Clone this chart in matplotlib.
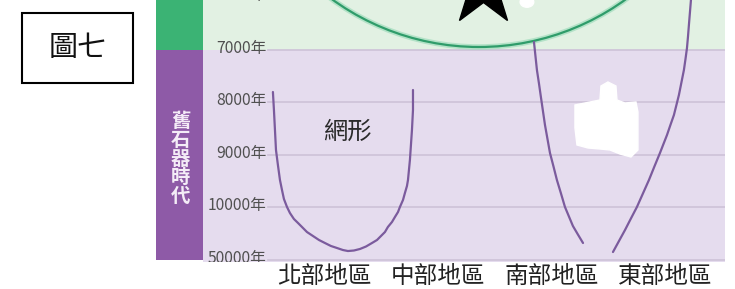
import matplotlib
matplotlib.use("Agg")
import matplotlib.pyplot as plt
from matplotlib.patches import Ellipse, Rectangle, Polygon
from matplotlib.transforms import blended_transform_factory

plt.rcParams['font.family'] = ['Noto Sans CJK TC', 'DejaVu Sans']

# ---------------- data ----------------
regions = ['北部地區', '中部地區', '南部地區', '東部地區']
year_labels = ['6000年', '7000年', '8000年', '9000年', '10000年', '50000年']
era_label = '舊石器時代'
figure_title = '圖七'
shape_label = '網形'

# curves: x = region position (0..3), y = year index (0 = 6000年 ... 5 = 50000年)
net_x = [-0.454, -0.445, -0.436, -0.427, -0.410, -0.392, -0.374, -0.357, -0.330,
         -0.304, -0.269, -0.233, -0.198, -0.154, -0.101, -0.048, 0.004, 0.057,
         0.110, 0.163, 0.207, 0.260, 0.313, 0.366, 0.419, 0.463, 0.498, 0.533,
         0.559, 0.595, 0.621, 0.648, 0.665, 0.692, 0.709, 0.727, 0.736, 0.753,
         0.762, 0.771, 0.780, 0.780]
net_y = [1.800, 2.143, 2.524, 2.905, 3.190, 3.476, 3.667, 3.838, 3.990,
         4.105, 4.219, 4.295, 4.371, 4.467, 4.543, 4.619, 4.676, 4.733,
         4.771, 4.810, 4.829, 4.819, 4.790, 4.743, 4.676, 4.619, 4.543, 4.467,
         4.371, 4.276, 4.181, 4.086, 3.990, 3.857, 3.724, 3.590, 3.476, 3.095,
         2.810, 2.524, 2.143, 1.762]
south_x = [1.846, 1.859, 1.872, 1.890, 1.907, 1.925, 1.943, 1.965, 1.987, 2.018,
           2.048, 2.084, 2.119, 2.154, 2.189, 2.233, 2.278]
south_y = [0.848, 1.114, 1.381, 1.638, 1.895, 2.162, 2.429, 2.695, 2.962, 3.219,
           3.476, 3.733, 3.990, 4.171, 4.352, 4.514, 4.676]
east_x = [3.229, 3.220, 3.211, 3.203, 3.194, 3.181, 3.167, 3.145, 3.123, 3.101,
          3.079, 3.048, 3.018, 2.987, 2.956, 2.907, 2.859, 2.806, 2.753, 2.700,
          2.648, 2.595, 2.542]
east_y = [0.048, 0.286, 0.524, 0.743, 0.962, 1.171, 1.381, 1.619, 1.857, 2.048,
          2.238, 2.429, 2.619, 2.790, 2.962, 3.219, 3.476, 3.733, 3.990, 4.210,
          4.429, 4.638, 4.848]

# ---------------- style ----------------
W, H, DPI = 735, 289, 100
fig = plt.figure(figsize=(W / DPI, H / DPI), dpi=DPI)
fig.patch.set_facecolor('white')

def fbox(x0, y0, x1, y1):
    return [x0 / W, 1 - y1 / H, (x1 - x0) / W, (y1 - y0) / H]

C_GREEN = '#3bb374'
C_PURPLE = '#8e5aa7'
C_LGREEN = '#e2f1e3'
C_LPURPLE = '#e5dcee'
C_GRID = '#cdc2d8'
C_CURVE = '#7b5b9d'
C_ARC = '#2f9c6a'

# y mapping: year index i sits at pixel -2.5 + 52.5*i
ax = fig.add_axes(fbox(203, 0, 725, 262))
ax.set_xlim(-1.070, 3.529)
ax.set_ylim(5.038, 0.048)
ax.set_facecolor(C_LPURPLE)
ax.axhspan(-1, 1, color=C_LGREEN, lw=0, zorder=0)
for s in ax.spines.values():
    s.set_visible(False)

for i in range(1, len(year_labels)):
    ax.axhline(i, xmin=0.125, xmax=1, color=C_GRID, lw=1.2, zorder=1)

tr = blended_transform_factory(ax.transAxes, ax.transData)
for i, lab in enumerate(year_labels):
    ax.text(0.121, i - 0.03, lab, transform=tr, ha='right', va='center', fontsize=11.3,
            color='#505050', clip_on=True, zorder=2)

ax.set_xticks(range(len(regions)))
ax.set_xticklabels(regions, fontsize=17, color='#222222')
ax.tick_params(axis='x', length=0, pad=2)
ax.set_yticks([])

# green arc (circle in pixel space)
arc_kw = dict(xy=(1.361, -3.819), width=4.405, height=9.524, fill=False)
ax.add_patch(Ellipse(edgecolor='#9fdcbc', lw=4, alpha=0.7, zorder=3, **arc_kw))
ax.add_patch(Ellipse(edgecolor=C_ARC, lw=1.6, zorder=3, **arc_kw))

# curves
for xs, ys in [(net_x, net_y), (south_x, south_y), (east_x, east_y)]:
    ax.plot(xs, ys, color=C_CURVE, lw=1.6, solid_capstyle='round',
            solid_joinstyle='round', zorder=4)

ax.text(0.198, 2.562, shape_label, fontsize=17.5, color='#2a2a2a', ha='center',
        va='center', fontweight='medium', zorder=5)

# star
ax.plot([1.396], [-0.219], marker='*', markersize=60, color='black', mec='black',
        clip_on=True, zorder=6)

# white smudges
ax.add_patch(Ellipse((1.784, 0.086), 0.12, 0.2, color='white', zorder=5))
blob = [(575, 105), (590, 102), (600, 100), (601, 86), (608, 82), (616, 86),
        (617, 100), (625, 103), (636, 102), (638, 112), (638, 150), (631, 157),
        (620, 154), (610, 150), (600, 149), (588, 148), (577, 145), (575, 128)]
blob_d = [((px - 324.5) / 113.5, (py + 2.5) / 52.5) for px, py in blob]
ax.add_patch(Polygon(blob_d, closed=True, color='white', zorder=5))

# left era band
bx = fig.add_axes(fbox(156, 0, 203, 260))
bx.set_xlim(0, 1)
bx.set_ylim(5.0, 0.048)
bx.axhspan(-1, 1, color=C_GREEN, lw=0)
bx.axhspan(1, 6, color=C_PURPLE, lw=0)
bx.axis('off')
bx.text(0.52, 3.08, '\n'.join(era_label), ha='center', va='center', fontsize=14,
        color='#f4ecf7', fontweight='bold', linespacing=0.98)

# figure label box
fig.patches.append(Rectangle((22 / W, 1 - 83 / H), 111 / W, 70 / H, fill=False,
                             ec='black', lw=1.5, transform=fig.transFigure,
                             figure=fig))
fig.text(78 / W, 1 - 48 / H, figure_title, ha='center', va='center', fontsize=21,
         color='#111111', fontweight='light')

fig.savefig('out.png', dpi=DPI)
